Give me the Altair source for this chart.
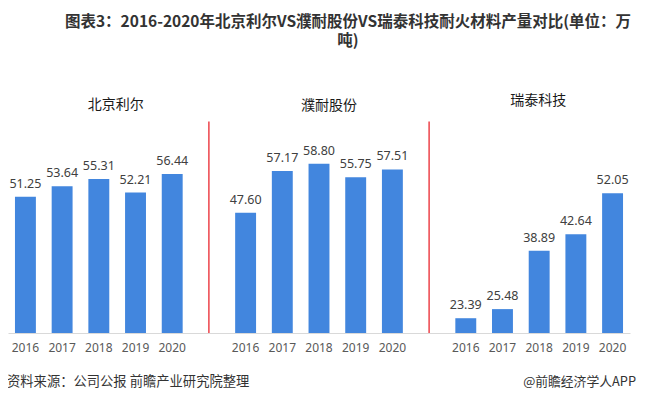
import altair as alt
import pandas as pd

years = ["2016", "2017", "2018", "2019", "2020"]
companies = ["北京利尔", "濮耐股份", "瑞泰科技"]
bjle = [51.25, 53.64, 55.31, 52.21, 56.44]
punai = [47.60, 57.17, 58.80, 55.75, 57.51]
ruitai = [23.39, 25.48, 38.89, 42.64, 52.05]
gaps = ["gap1", "gap2"]

title_lines = ["图表3：2016-2020年北京利尔VS濮耐股份VS瑞泰科技耐火材料产量对比(单位：万", "吨)"]
source_text = "资料来源：公司公报 前瞻产业研究院整理"
brand_text = "@前瞻经济学人APP"

series = [bjle, punai, ruitai]
order = []
rows = []
for i, (comp, vals) in enumerate(zip(companies, series)):
    for y, v in zip(years, vals):
        cat = f"{comp}-{y}"
        order.append(cat)
        rows.append({"cat": cat, "company": comp, "year": y, "value": v})
    if i < len(gaps):
        order.append(gaps[i])
bars_df = pd.DataFrame(rows)

sep_df = pd.DataFrame({"cat": gaps, "top": [68.5, 68.5], "bottom": [20, 20]})

CJK = "Noto Sans CJK SC"
BLUE = "#4286DE"

x = alt.X(
    "cat:N",
    sort=order,
    scale=alt.Scale(domain=order, paddingInner=0.43, paddingOuter=0.19),
    axis=alt.Axis(
        title=None,
        labelExpr="indexof(datum.value, 'gap') >= 0 ? '' : slice(datum.value, -4)",
        labelAngle=0,
        ticks=False,
        domainColor="#d9d9d9",
        domainWidth=1,
        labelColor="#595959",
        labelFont="Noto Sans",
        labelFontSize=12,
        labelPadding=9,
    ),
)
yscale = alt.Scale(domain=[20, 70], zero=False, nice=False, clamp=True)

bars = alt.Chart(bars_df).mark_bar(color=BLUE).encode(
    x=x,
    y=alt.Y("value:Q", scale=yscale, axis=None),
    y2=alt.datum(20),
)
labels = alt.Chart(bars_df).mark_text(
    baseline="bottom", dy=-6, font="Noto Sans", fontSize=12.5, color="#404040"
).encode(
    x=alt.X("cat:N", sort=order),
    y=alt.Y("value:Q", scale=yscale),
    text=alt.Text("value:Q", format=".2f"),
)
seps = alt.Chart(sep_df).mark_rule(color="#e8141c", strokeWidth=1.2).encode(
    x=alt.X("cat:N", sort=order),
    y=alt.Y("top:Q", scale=yscale),
    y2="bottom:Q",
)

panel_layers = []
for comp, dx, yv in zip(companies, [17, 10, -1], [-10, -9, -14]):
    pdf = pd.DataFrame({"cat": [f"{comp}-2018"], "label": [comp]})
    panel_layers.append(
        alt.Chart(pdf).mark_text(
            font=CJK, fontSize=14, color="#1a1a1a", baseline="middle", dx=dx
        ).encode(
            x=alt.X("cat:N", sort=order),
            y=alt.value(yv),
            text="label:N",
        )
    )

src = alt.Chart(pd.DataFrame({"t": [source_text]})).mark_text(
    font=CJK, fontSize=13.3, color="#333333", align="left", baseline="middle"
).encode(x=alt.value(-1), y=alt.value(267), text="t:N")
brand = alt.Chart(pd.DataFrame({"t": [brand_text]})).mark_text(
    font=CJK, fontSize=12.8, color="#333333", align="right", baseline="middle"
).encode(x=alt.value(628), y=alt.value(267), text="t:N")

chart = alt.layer(bars, labels, seps, *panel_layers, src, brand).properties(
    width=622,
    height=218,
    autosize=alt.AutoSizeParams(type="none"),
    padding={"left": 0, "top": 107, "right": 7, "bottom": 61},
    title=alt.TitleParams(
        text=title_lines,
        font=CJK,
        fontSize=15.5,
        fontWeight="bold",
        color="#333333",
        anchor="middle",
        lineHeight=18.5,
        offset=45,
        dx=29,
    ),
).configure_view(stroke=None)

chart.save("out.html", embed_options={"renderer": "svg", "actions": False})
